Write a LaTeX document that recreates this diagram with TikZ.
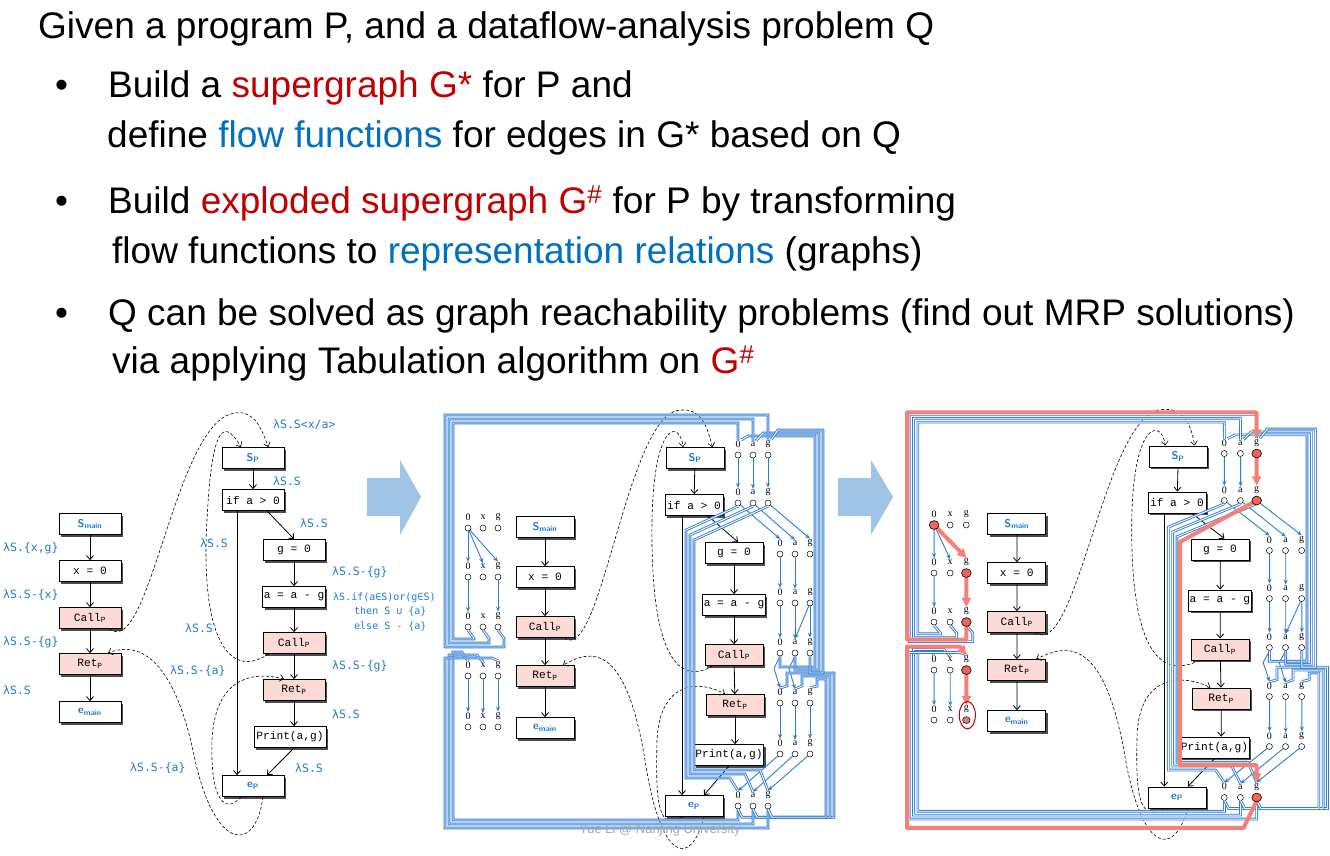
\documentclass[tikz,border=0pt]{standalone}
\usepackage{fontspec}
\setmainfont{Liberation Sans}
\setmonofont{Liberation Mono}
\newfontfamily\lamf{DejaVu Sans Mono}
\newfontfamily\serf{Liberation Serif}
\usetikzlibrary{arrows.meta,shadows}
\definecolor{tred}{RGB}{192,0,0}
\definecolor{tblue}{RGB}{0,112,192}
\definecolor{lblue}{RGB}{30,120,210}
\definecolor{fblue}{RGB}{46,123,214}
\definecolor{pinkc}{RGB}{252,218,213}
\definecolor{arrowc}{RGB}{160,196,230}
\definecolor{redp}{RGB}{244,128,120}
\definecolor{redd}{RGB}{240,100,90}
\newcommand\smain{\textcolor{lblue}{\sffamily\bfseries S\textsubscript{main}}}
\newcommand\emainx{\textcolor{lblue}{\sffamily\bfseries e\textsubscript{main}}}
\newcommand\spx{\textcolor{lblue}{\sffamily\bfseries S\textsubscript{P}}}
\newcommand\epx{\textcolor{lblue}{\sffamily\bfseries e\textsubscript{P}}}
\newcommand\cp{Call\textsubscript{P}}
\newcommand\rp{Ret\textsubscript{P}}
\tikzset{
 box/.style={draw, line width=0.8pt, minimum width=58pt, minimum height=21pt, inner sep=1pt,
   font=\ttfamily\fontsize{11.2}{12}\selectfont, fill=white,
   drop shadow={shadow xshift=2pt, shadow yshift=-2pt, fill=black!70, opacity=1}},
 pbox/.style={box, fill=pinkc},
 lam/.style={text=lblue, font=\lamf\fontsize{11.5}{13}\selectfont, anchor=west, inner sep=0},
 dot/.style={circle, draw, line width=0.5pt, minimum size=6pt, inner sep=0, fill=white},
 glab/.style={font=\serf\fontsize{10}{10}\selectfont, inner sep=0.5pt},
 cf/.style={line width=0.8pt, -{Straight Barb[length=4pt,width=7pt]}},
 dcf/.style={densely dashed, line width=0.6pt, -{Straight Barb[length=4pt,width=7pt]}},
 fe/.style={draw=fblue, line width=0.9pt, -{Stealth[length=5pt,width=4pt]}},
 wire/.style={draw=fblue, double=white, double distance=0.9pt, line width=0.9pt},
 rpth/.style={draw=redp, line width=4pt, line join=round, -{Triangle[length=9pt,width=9pt]}},
 big/.style={font=\fontsize{37}{40}\selectfont, anchor=base west, inner sep=0}
}
\newcommand\grw[4]{\foreach \l [count=\i from 0] in {#4}{%
  \node[dot] (#1-\i) at ({#2+15*\i},#3) {};
  \node[glab] (#1-\i l) at ({#2+15*\i},{#3-11}) {\l};}}
\newcommand\xgraph[1]{%
 \node[box] (#1Sm) at (545,527) {\smain};
 \node[box] (#1X) at (545,577) {x = 0};
 \node[pbox] (#1Cm) at (545,627) {\cp};
 \node[pbox] (#1Rm) at (545,676) {\rp};
 \node[box] (#1Em) at (545,728) {\emainx};
 \node[box] (#1Sp) at (695,458) {\spx};
 \node[box] (#1If) at (694,505) {if a > 0};
 \node[box] (#1G) at (734,553) {g = 0};
 \node[box] (#1A) at (734,605) {a = a - g};
 \node[pbox] (#1Cp) at (734,655) {\cp};
 \node[pbox] (#1Rp) at (735,705) {\rp};
 \node[box, minimum width=66pt] (#1Pr) at (729,755) {Print(a,g)};
 \node[box] (#1Ep) at (694,806) {\epx};
 \draw[cf] (#1Sm) -- (#1X); \draw[cf] (#1X) -- (#1Cm); \draw[cf] (#1Cm) -- (#1Rm); \draw[cf] (#1Rm) -- (#1Em);
 \draw[cf] (#1Sp) -- (#1If); \draw[cf] ([xshift=14]#1If.south) -- ([xshift=4]#1G.north);
 \draw[cf] ([xshift=-12]#1If.south) -- ([xshift=-12]#1Ep.north);
 \draw[cf] (#1G) -- (#1A); \draw[cf] (#1A) -- (#1Cp); \draw[cf] (#1Cp) -- (#1Rp); \draw[cf] (#1Rp) -- ([xshift=6]#1Pr.north);
 \draw[cf] (#1Pr.south) -- ([xshift=10]#1Ep.north);
 \draw[dcf] ([xshift=-10]#1Cm.south east) .. controls (600,665) and (625,430) .. (675,411) .. controls (700,405) and (707,425) .. ([xshift=-12]#1Sp.north east);
 \draw[dcf] ([xshift=8]#1Cp.south west) .. controls (680,685) and (650,660) .. (652,520) .. controls (654,420) and (680,420) .. ([xshift=-12]#1Sp.north);
 \draw[dcf] ([xshift=10]#1Ep.south) .. controls (690,870) and (660,860) .. (645,760) .. controls (625,640) and (590,650) .. ([xshift=18]#1Rm.north);
 \draw[dcf] ([xshift=-12]#1Ep.south) .. controls (660,830) and (655,810) .. (657,740) .. controls (660,680) and (700,680) .. ([xshift=-10]#1Rp.north);
 \grw{#1-m1}{468}{528}{0,x,g}\grw{#1-m2}{468}{577}{0,x,g}\grw{#1-m3}{468}{627}{0,x,g}
 \grw{#1-m4}{468}{676}{0,x,g}\grw{#1-m5}{468}{727}{0,x,g}
 \grw{#1-t1}{738}{455}{0,a,g}\grw{#1-t2}{738}{503}{0,a,g}
 \grw{#1-i1}{780}{554}{0,a,g}\grw{#1-i2}{780}{603}{0,a,g}\grw{#1-i3}{780}{653}{0,a,g}
 \grw{#1-i4}{780}{703}{0,a,g}\grw{#1-i5}{780}{754}{0,a,g}
 \grw{#1-b}{738}{806}{0,a,g}
 \foreach \k in {0,1,2}{\draw[fe] (#1-m1-0) -- (#1-m2-\k l.north);}
 \draw[fe] (#1-m2-0) -- (#1-m3-0l.north); \draw[fe] (#1-m2-2) -- (#1-m3-2l.north);
 \foreach \k in {0,1,2}{\draw[fe] (#1-m4-\k) -- (#1-m5-\k l.north);
   \draw[fe] (#1-t1-\k) -- (#1-t2-\k l.north);
   \draw[fe] (#1-t2-\k) -- (#1-i1-\k l.north);
   \draw[fe] (#1-i4-\k) -- (#1-i5-\k l.north);
   \draw[fe] (#1-i5-\k) -- (#1-b-\k l.north);}
 \foreach \k in {0,1}{\draw[fe] (#1-i1-\k) -- (#1-i2-\k l.north);
   \draw[fe] (#1-i3-\k.south) -- ++(-6,12) -- (#1-i4-\k l.north);}
 \draw[fe] (#1-i2-0) -- (#1-i3-0l.north); \draw[fe] (#1-i2-1) -- (#1-i3-1l.north);
 \draw[fe] (#1-i2-2) -- (#1-i3-1l.north); \draw[fe] (#1-i2-2) -- (#1-i3-2l.north);
 \foreach \k in {0,1,2}{%
   \draw[wire] (#1-m3-\k.south) -- ++(6,8) |- ({453-4*\k},{639+4*\k}) |- ({738+15*\k},{423-4*\k}) -- (#1-t1-\k l.north);
   \draw[wire] (#1-b-\k.south) |- ({453-4*\k},{820+4*\k}) |- ({462+15*\k},{652+3*\k}) -- (#1-m4-\k l.north);
   \draw[wire] (#1-i3-\k.south) |- ({815+4*\k},{667+3*\k}) |- ({748+15*\k},{436-3*\k}) -- (#1-t1-\k l.north east);
   \draw[wire] (#1-b-\k.south) -- ++(4,8) -| ({834-4*\k},{673+3*\k}) -| ({787+15*\k},{686}) -- (#1-i4-\k l.north);
   \draw[wire] (#1-t2-\k.south) -- ({686+4*\k},{530+5*\k}) -- ({686+4*\k},{778-4*\k}) -- ({730+15*\k},{778-4*\k}) -- (#1-b-\k l.north);}
}
\begin{document}
\begin{tikzpicture}[x=1pt,y=-1pt]
\useasboundingbox (0,0) rectangle (1330,855);
\node[big] (t0) at (38,38) {Given a program P, and a dataflow-analysis problem Q};
\node[big] (b1) at (55,97) {\textbullet};
\node[big] (t1) at (108,97) {Build a \textcolor{tred}{supergraph G*} for P and};
\node[big] (t2) at (107,147) {define \textcolor{tblue}{flow functions} for edges in G* based on Q};
\node[big] (b2) at (55,213) {\textbullet};
\node[big] (t3) at (108,213) {Build \textcolor{tred}{exploded supergraph G\textsuperscript{\#}} for P by transforming};
\node[big] (t4) at (112,263) {flow functions to \textcolor{tblue}{representation relations} (graphs)};
\node[big] (b3) at (55,325) {\textbullet};
\node[big] (t5) at (108,325) {Q can be solved as graph reachability problems (find out MRP solutions)};
\node[big] (t6) at (112,373) {via applying Tabulation algorithm on \textcolor{tred}{G\textsuperscript{\#}}};
\begin{scope}[box/.append style={minimum width=62pt}]
\node[box] (lSm) at (90,524) {\smain};
\node[box] (lX) at (90,571) {x = 0};
\node[pbox] (lCm) at (90,618) {\cp};
\node[pbox] (lRm) at (90,664) {\rp};
\node[box] (lEm) at (90,712) {\emainx};
\node[box] (lSp) at (253,458) {\spx};
\node[box] (lIf) at (253,500) {if a > 0};
\node[box] (lG) at (294,550) {g = 0};
\node[box] (lA) at (294,597) {a = a - g};
\node[pbox] (lCp) at (294,643) {\cp};
\node[pbox] (lRp) at (294,690) {\rp};
\node[box, minimum width=72pt] (lPr) at (290,737) {Print(a,g)};
\node[box] (lEp) at (253,786) {\epx};
\end{scope}
\draw[cf] (lSm) -- (lX); \draw[cf] (lX) -- (lCm); \draw[cf] (lCm) -- (lRm); \draw[cf] (lRm) -- (lEm);
\draw[cf] (lSp) -- (lIf); \draw[cf] ([xshift=14]lIf.south) -- (lG.north);
\draw[cf] ([xshift=-16]lIf.south) -- ([xshift=-16]lEp.north);
\draw[cf] (lG) -- (lA); \draw[cf] (lA) -- (lCp); \draw[cf] (lCp) -- (lRp); \draw[cf] (lRp) -- ([xshift=4]lPr.north);
\draw[cf] ([xshift=4]lPr.south) -- ([xshift=14]lEp.north);
\draw[dcf] ([xshift=-12]lCm.south east) .. controls (150,660) and (175,420) .. (235,413) .. controls (255,410) and (262,430) .. ([xshift=-16]lSp.north east);
\draw[dcf] ([xshift=6]lCp.south west) .. controls (230,680) and (200,640) .. (207,520) .. controls (212,420) and (225,420) .. ([xshift=-12]lSp.north);
\draw[dcf] ([xshift=10]lEp.south) .. controls (255,855) and (215,850) .. (195,760) .. controls (175,660) and (140,640) .. ([xshift=18]lRm.north);
\draw[dcf] ([xshift=-12]lEp.south) .. controls (225,815) and (210,800) .. (212,740) .. controls (215,680) and (250,670) .. ([xshift=-10]lRp.north);
\node[lam] (l1) at (3,548) {λS.\{x,g\}};
\node[lam] (l2) at (3,595) {λS.S-\{x\}};
\node[lam] (l3) at (3,642) {λS.S-\{g\}};
\node[lam] (l4) at (3,690) {λS.S};
\node[lam] (l5) at (273,425) {λS.S<x/a>};
\node[lam] (l6) at (273,481) {λS.S};
\node[lam] (l7) at (300,523) {λS.S};
\node[lam] (l8) at (200,543) {λS.S};
\node[lam] (l9) at (332,572) {λS.S-\{g\}};
\node[lam, font=\lamf\fontsize{10}{12}\selectfont] (l10) at (333,598) {λS.if(a∈S)or(g∈S)};
\node[lam, font=\lamf\fontsize{10}{12}\selectfont] (l11) at (354,612) {then S ∪ \{a\}};
\node[lam, font=\lamf\fontsize{10}{12}\selectfont] (l12) at (354,626) {else S - \{a\}};
\node[lam] (l13) at (185,628) {λS.S};
\node[lam] (l14) at (170,671) {λS.S-\{a\}};
\node[lam] (l15) at (332,666) {λS.S-\{g\}};
\node[lam] (l16) at (332,714) {λS.S};
\node[lam] (l17) at (130,768) {λS.S-\{a\}};
\node[lam] (l18) at (295,768) {λS.S};
\fill[arrowc] (367,478) -- (400,478) -- (400,460) -- (421,497) -- (400,535) -- (400,516) -- (367,516) -- cycle;
\fill[arrowc] (838,478) -- (871,478) -- (871,460) -- (893,497) -- (871,535) -- (871,516) -- (838,516) -- cycle;
\xgraph{M}
\node[font=\fontsize{13}{14}\selectfont, text=black!35] (wm) at (660,830) {Yue Li @ Nanjing University};
\begin{scope}[shift={(430.9,7.6)}, xscale=1.075, yscale=0.98]
\xgraph{R}
\draw[rpth] (R-m1-0) -- (R-m2-2l.north);
\draw[rpth] (R-m2-2) -- (R-m3-2l.north);
\draw[rpth] (R-m3-2.south) |- (443,645) |- (768,413) -- (R-t1-2l.north);
\draw[rpth] (R-t1-2) -- (R-t2-2l.north);
\draw[rpth] (R-t2-2) -- (697,545) |- (768,773) -- (R-b-2l.north);
\draw[rpth] (R-b-2.south) -- (756,837) -| (443,652) -- (492,652) -- (R-m4-2l.north);
\draw[rpth] (R-m4-2) -- (R-m5-2l.north);
\foreach \n in {m1-0,m2-2,m3-2,m4-2,t1-2,t2-2,b-2}{\draw[fill=redd, line width=0.6pt] (R-\n) circle (4.5);}
\draw[fill=redp!80!gray, line width=0.5pt] (R-m5-2) circle (3.5);
\draw[red!75!black, line width=1pt] (499,722) ellipse (7.5 and 14);
\end{scope}
\end{tikzpicture}
\end{document}
